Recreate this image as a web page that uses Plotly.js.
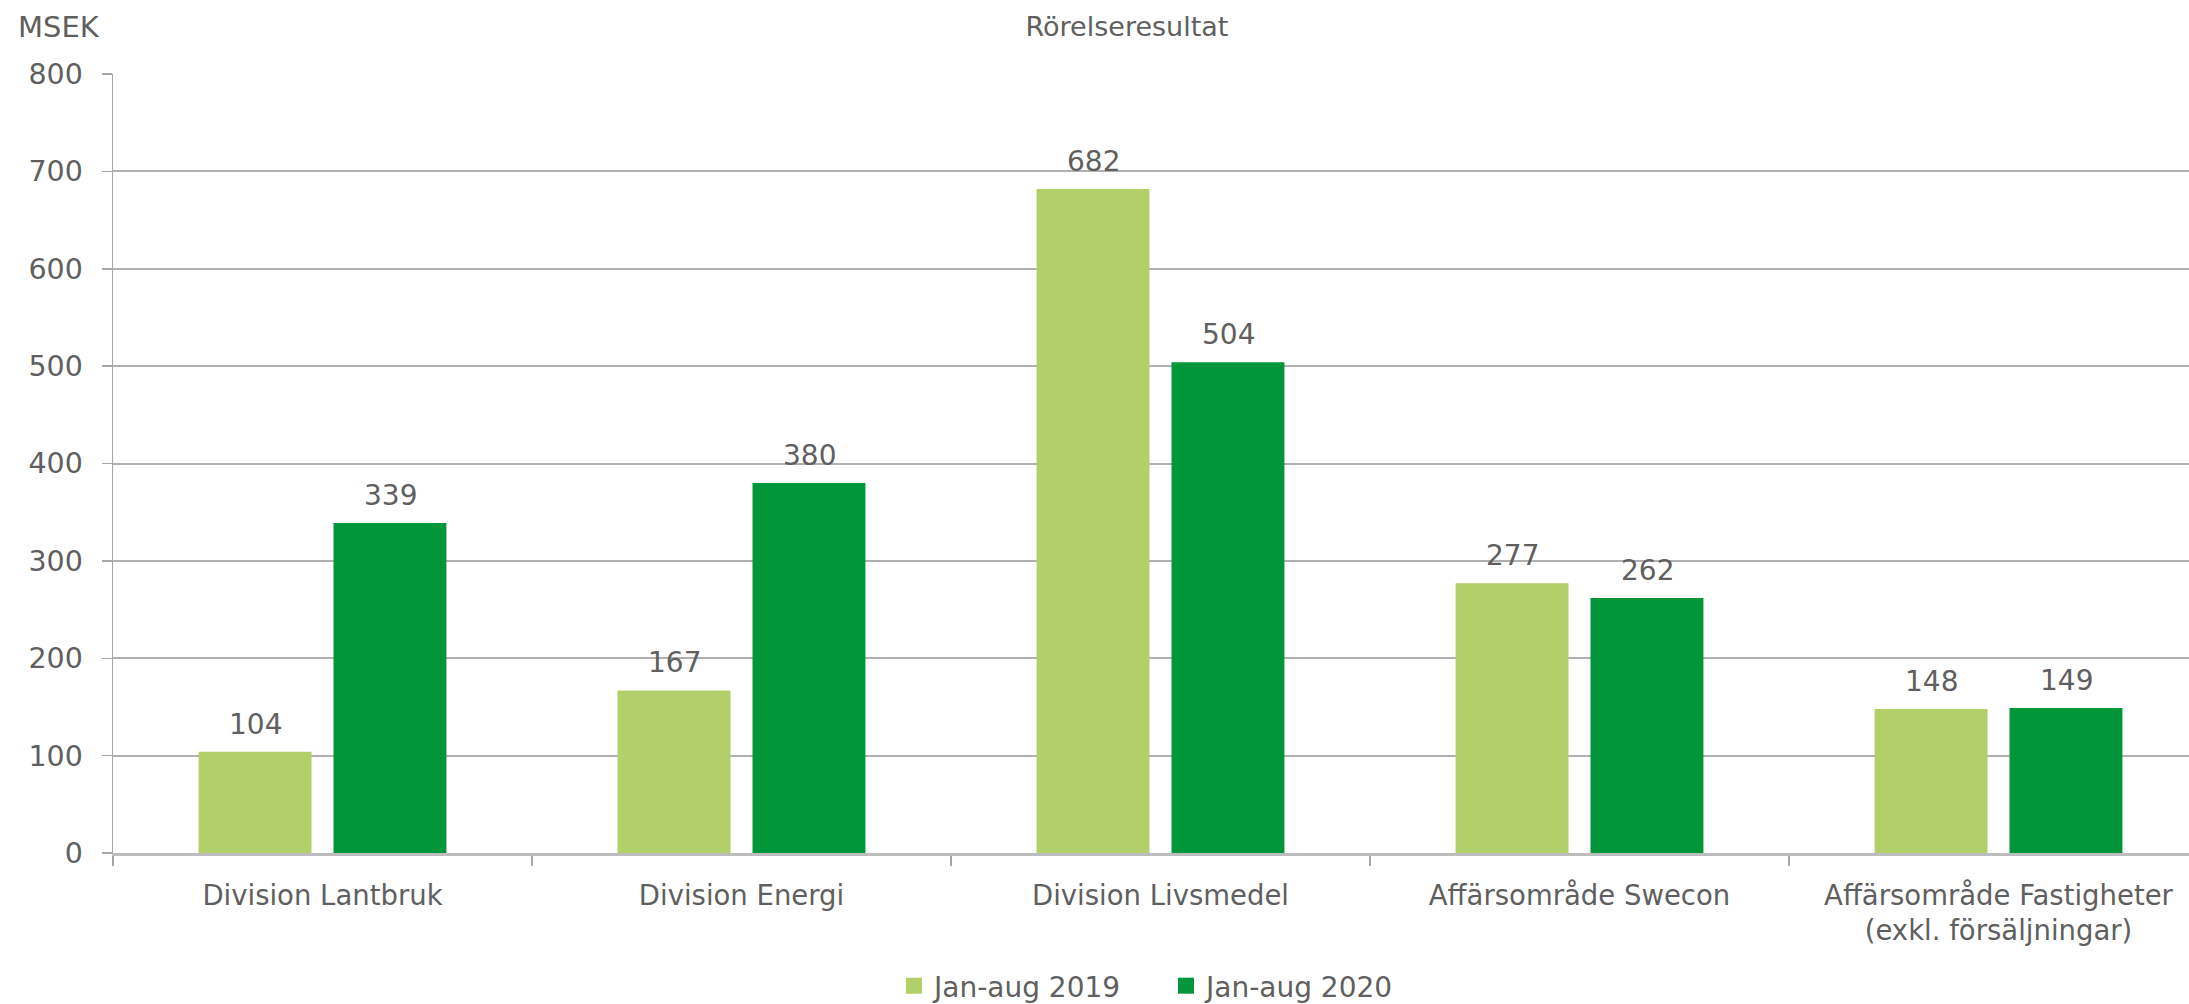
<!DOCTYPE html>
<html>
<head>
<meta charset="utf-8">
<script src="https://cdn.plot.ly/plotly-3.0.1.min.js"></script>
<style>html,body{margin:0;padding:0;background:#fff;}#chart{width:2189px;height:1004px;}</style>
</head>
<body>
<div id="chart"></div>
<script>
const categories = ["Division Lantbruk", "Division Energi", "Division Livsmedel", "Affärsområde Swecon", "Affärsområde Fastigheter<br>(exkl. försäljningar)"];
const seriesNames = ["Jan-aug 2019", "Jan-aug 2020"];
const values2019 = [104, 167, 682, 277, 148];
const values2020 = [339, 380, 504, 262, 149];
const yTicks = [0, 100, 200, 300, 400, 500, 600, 700, 800];

const colors = ["#b3cf69", "#009639"];
const textColor = "#5f5f5f";
const FONT = "DejaVu Sans, Liberation Sans, Arial, sans-serif";

const seriesValues = [values2019, values2020];

const traces = seriesValues.map((vals, i) => ({
  type: "bar",
  name: seriesNames[i],
  x: categories,
  y: vals,
  marker: {color: colors[i], line: {width: 0}},
  showlegend: false,
  hoverinfo: "x+y"
}));

// legend-only traces with larger square swatches
seriesNames.forEach((n, i) => {
  traces.push({
    type: "scatter", mode: "markers", name: n,
    x: [null], y: [null],
    marker: {symbol: "square", size: 18, color: colors[i]},
    showlegend: true, hoverinfo: "skip"
  });
});

const slotPx = 135;
const annotations = [];
seriesValues.forEach((vals, i) => {
  vals.forEach((v, j) => {
    annotations.push({
      x: categories[j], y: v, xref: "x", yref: "y",
      text: String(v), showarrow: false,
      xshift: (i === 0 ? -1 : 1) * slotPx / 2,
      yanchor: "bottom", yshift: 9,
      font: {family: FONT, size: 28, color: textColor}
    });
  });
});
annotations.push({
  text: "MSEK", xref: "paper", yref: "paper",
  x: (16 - 113) / 2076, xanchor: "left",
  y: 1 + (74 - 27) / 779, yanchor: "middle",
  showarrow: false,
  font: {family: FONT, size: 29, color: textColor}
});

const layout = {
  width: 2189, height: 1004,
  paper_bgcolor: "#ffffff", plot_bgcolor: "#ffffff",
  margin: {l: 113, r: 0, t: 74, b: 151, pad: 0, autoexpand: false},
  font: {family: FONT, size: 28, color: textColor},
  title: {
    text: "Rörelseresultat",
    x: 1127 / 2189, xref: "container", xanchor: "center",
    y: 1 - 27 / 1004, yref: "container", yanchor: "middle",
    font: {family: FONT, size: 27, color: textColor}
  },
  barmode: "group",
  bargap: 0.356,
  bargroupgap: 0.163,
  xaxis: {
    type: "category",
    range: [-0.5, 4.5 - 19 / 419],
    showline: true, linecolor: "#bdbdbd", linewidth: 2.5,
    ticks: "outside", tickson: "boundaries", ticklen: 10, tickcolor: "#a6a6a6", tickwidth: 1.5,
    showgrid: false, zeroline: false,
    tickfont: {family: FONT, size: 27.5, color: textColor},
    ticklabelstandoff: 16,
    automargin: false,
    fixedrange: true
  },
  yaxis: {
    range: [0, 800],
    tickvals: yTicks, ticktext: yTicks.map(String),
    showline: true, linecolor: "#a6a6a6", linewidth: 1.5,
    ticks: "outside", ticklen: 10, tickcolor: "#a6a6a6", tickwidth: 1.5,
    showgrid: true, gridcolor: "#b0b0b0", gridwidth: 2,
    zeroline: false,
    tickfont: {family: FONT, size: 28.5, color: textColor},
    ticklabelstandoff: 13,
    automargin: false,
    fixedrange: true
  },
  legend: {
    orientation: "h",
    x: 0.5 + 15 / 2076, xanchor: "center", xref: "paper",
    y: (853 - 986) / 779, yanchor: "middle", yref: "paper",
    font: {family: FONT, size: 28, color: textColor},
    itemsizing: "trace",
    entrywidth: 227,
    bgcolor: "rgba(0,0,0,0)"
  },
  annotations: annotations,
  showlegend: true
};

Plotly.newPlot("chart", traces, layout, {displayModeBar: false, staticPlot: true});
</script>
</body>
</html>
